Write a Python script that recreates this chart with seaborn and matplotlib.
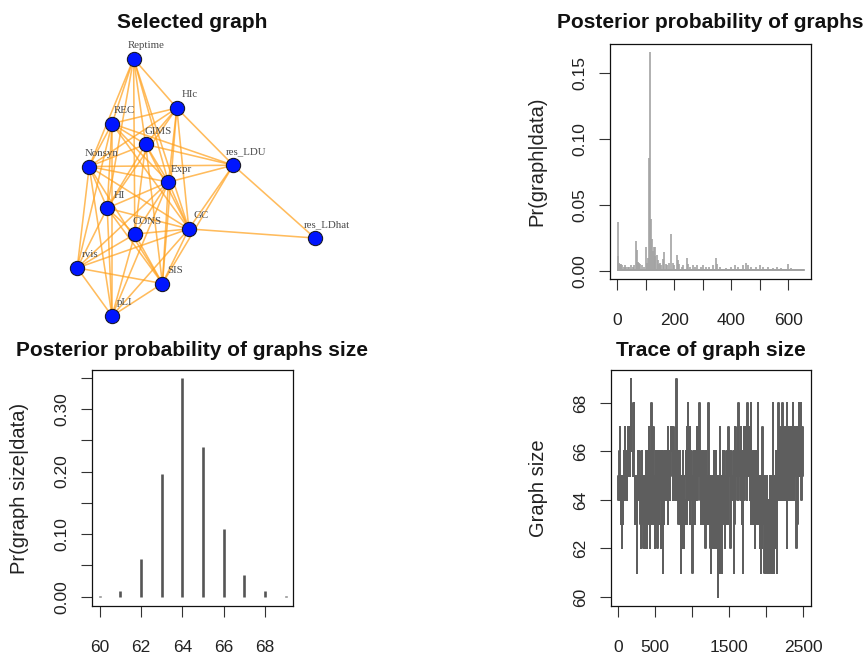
import numpy as np
import pandas as pd
import matplotlib
matplotlib.use("Agg")
import matplotlib.pyplot as plt
import seaborn as sns

# ------------------------------------------------------------------ data
# selected graph (layout coordinates)
node_names = ["Reptime", "HIc", "REC", "GIMS", "Nonsyn", "res_LDU", "Expr",
              "HI", "CONS", "GC", "res_LDhat", "rvis", "SIS", "pLI"]
node_x = [-0.52, -0.16, -0.70, -0.42, -0.89, 0.31, -0.23,
          -0.74, -0.51, -0.06, 0.99, -0.99, -0.28, -0.70]
node_y = [0.98, 0.60, 0.48, 0.32, 0.15, 0.16, 0.03,
          -0.17, -0.37, -0.33, -0.40, -0.63, -0.75, -1.00]
edge_from = (["Reptime"] * 8 + ["HIc"] * 8 + ["REC"] * 8 + ["GIMS"] * 7 +
             ["Nonsyn"] * 7 + ["res_LDU"] * 4 + ["Expr"] * 6 + ["HI"] * 5 +
             ["CONS"] * 4 + ["GC"] * 4 + ["rvis"] * 2 + ["SIS"])
edge_to = ["HIc", "REC", "Nonsyn", "HI", "CONS", "GIMS", "Expr", "GC",
           "REC", "GIMS", "Nonsyn", "res_LDU", "Expr", "GC", "HI", "SIS",
           "GIMS", "Expr", "res_LDU", "Nonsyn", "HI", "rvis", "pLI", "GC",
           "Nonsyn", "res_LDU", "Expr", "HI", "CONS", "GC", "SIS",
           "res_LDU", "Expr", "HI", "rvis", "pLI", "GC", "SIS",
           "Expr", "GC", "res_LDhat", "SIS",
           "HI", "GC", "SIS", "pLI", "CONS", "rvis",
           "CONS", "GC", "rvis", "pLI", "SIS",
           "GC", "rvis", "pLI", "SIS",
           "res_LDhat", "rvis", "SIS", "pLI",
           "SIS", "pLI",
           "pLI"]

# posterior probability of graphs (visible bars; all other graphs ~ floor)
n_graphs = 654
graph_floor = 0.0015
graph_idx = [2, 4, 6, 8, 10, 14, 18, 22, 26, 30, 36, 42, 48, 54, 60, 66, 69,
             72, 76, 80, 86, 92, 100, 104, 108, 112, 116, 119, 122, 125, 128,
             131, 134, 138, 142, 146, 150, 155, 160, 165, 170, 176, 182, 188,
             194, 200, 208, 212, 218, 226, 232, 243, 248, 256, 264, 272, 280,
             292, 300, 310, 322, 335, 345, 350, 362, 380, 400, 412, 425, 440,
             450, 458, 470, 485, 500, 512, 530, 545, 560, 575, 598, 610]
graph_prob = [0.011, 0.037, 0.006, 0.005, 0.004, 0.005, 0.004, 0.003, 0.004,
              0.003, 0.003, 0.003, 0.004, 0.003, 0.004, 0.0225, 0.016, 0.007,
              0.006, 0.005, 0.004, 0.003, 0.018, 0.006, 0.010, 0.086, 0.166,
              0.039, 0.024, 0.015, 0.018, 0.011, 0.018, 0.012, 0.008, 0.005,
              0.006, 0.004, 0.009, 0.014, 0.005, 0.004, 0.006, 0.028, 0.006,
              0.004, 0.012, 0.008, 0.005, 0.003, 0.004, 0.0095, 0.005, 0.003,
              0.004, 0.003, 0.004, 0.003, 0.004, 0.003, 0.003, 0.004, 0.0095,
              0.005, 0.003, 0.002, 0.003, 0.004, 0.003, 0.004, 0.006, 0.004,
              0.003, 0.003, 0.004, 0.003, 0.003, 0.002, 0.003, 0.002, 0.005,
              0.002]

# posterior probability of graph size
size_values = [60, 61, 62, 63, 64, 65, 66, 67, 68, 69]
size_probs = [0.001, 0.0096, 0.060, 0.196, 0.349, 0.240, 0.108, 0.034,
              0.0096, 0.001]

# trace of graph size: one digit (size - 60) per 5 iterations
trace_step = 5
trace_digits = (
    "5456754345" "2453456567" "4565456757" "6567968786" "5686543545"
    "1456545636" "3524563425" "4352463524" "5637462537" "8463574352"
    "4563542645" "3564524356" "5163456546" "4565376454" "6575676457"
    "6546564956" "4563546352" "1425364524" "3456573648" "5647365463"
    "1453645635" "4567456758" "6745365436" "4536452645" "3456835452"
    "1354253426" "4352643524" "0354173524" "1546356425" "4365453576"
    "5462436545" "4516376456" "5674587565" "4675361567" "6475675648"
    "6857645738" "5463546352" "4563645385" "3524315427" "4352413524"
    "1353142135" "4132513485" "3152436415" "6478564675" "5648675467"
    "4567482675" "6475657465" "5846746576" "4267356586" "6576845765")

# ------------------------------------------------------------------ style
sns.set_style("white")
plt.rcParams["font.family"] = ["Liberation Sans", "DejaVu Sans"]

W, H = 868, 659
fig = plt.figure(figsize=(W / 100, H / 100), dpi=100)


def add_ax(l, t, r, b):
    return fig.add_axes([l / W, 1 - b / H, (r - l) / W, (b - t) / H])


def r_style(ax, ylab):
    for s in ax.spines.values():
        s.set_visible(True)
        s.set_color("#111111")
        s.set_linewidth(0.9)
    ax.tick_params(axis="both", direction="out", length=7.7, width=0.8,
                   color="#333333", labelsize=12.5, labelcolor="#222222",
                   bottom=True, left=True)
    ax.tick_params(axis="x", pad=17)
    ax.tick_params(axis="y", pad=8.5)
    ax.set_ylabel(ylab, fontsize=14.5, color="#222222")
    ax.yaxis.label.set_verticalalignment("center")
    ax.yaxis.set_label_coords(-0.363, 0.5)
    ax.set_xlabel("")
    ax.grid(False)


def title(txt, cx, cy):
    fig.text(cx / W, 1 - cy / H, txt, ha="center", va="center",
             fontsize=15, fontweight="bold", color="#111111")


# ------------------------------------------------------------------ network
ax0 = add_ax(40, 35, 350, 335)
pos = {n: (x, y) for n, x, y in zip(node_names, node_x, node_y)}
for a, b in zip(edge_from, edge_to):
    ax0.plot([pos[a][0], pos[b][0]], [pos[a][1], pos[b][1]],
             color="#FFA21F", alpha=0.72, lw=1.15, zorder=1,
             solid_capstyle="butt")
nodes = pd.DataFrame({"x": node_x, "y": node_y, "name": node_names})
sns.scatterplot(data=nodes, x="x", y="y", ax=ax0, s=105, color="#0015FF",
                edgecolor="#1a1a2a", linewidth=0.8, zorder=3, legend=False)
for n, x, y in zip(node_names, node_x, node_y):
    ax0.annotate(n, (x, y), xytext=(9.0, 9.4), textcoords="offset points",
                 ha="center", va="center", fontsize=7.8,
                 family=["Liberation Serif", "DejaVu Serif"],
                 color="#4a4a4a", zorder=4)
ax0.set_xlim(-1.3, 1.283)
ax0.set_ylim(-1.146, 1.1615)
ax0.axis("off")
title("Selected graph", 192, 22)

# ------------------------------------------------------------------ posterior of graphs
prob_map = dict(zip(graph_idx, graph_prob))
all_idx = np.arange(1, n_graphs + 1)
all_prob = np.array([prob_map.get(i, graph_floor) for i in all_idx])
ax1 = add_ax(610, 44, 811, 279)
ax1.vlines(all_idx, 0, all_prob, color="#A3A3A3", lw=1.2)
ax1.set_xlim(-25.6, 679.6)
ax1.set_ylim(-0.0063, 0.1723)
ax1.set_xticks(np.arange(0, 601, 100))
ax1.set_xticklabels(["0", "", "200", "", "400", "", "600"])
ax1.set_yticks([0, 0.05, 0.10, 0.15])
ax1.set_yticklabels(["0.00", "0.05", "0.10", "0.15"], rotation=90,
                    va="center")
r_style(ax1, "Pr(graph|data)")
title("Posterior probability of graphs", 710.5, 22)

# ------------------------------------------------------------------ posterior of graph size
ax2 = add_ax(92.3, 370, 293.3, 606)
ax2.vlines(size_values, 0, size_probs, color="#555555", lw=1.9)
ax2.set_xlim(59.64, 69.36)
ax2.set_ylim(-0.0149, 0.3624)
ax2.set_xticks([60, 62, 64, 66, 68])
ax2.set_xticklabels(["60", "62", "64", "66", "68"])
ax2.set_yticks(np.arange(0, 0.351, 0.05))
ax2.set_yticklabels(["0.00", "", "0.10", "", "0.20", "", "0.30", ""],
                    rotation=90, va="center")
r_style(ax2, "Pr(graph size|data)")
title("Posterior probability of graphs size", 192.5, 350)

# ------------------------------------------------------------------ trace
trace = pd.DataFrame({
    "iter": np.arange(len(trace_digits)) * trace_step,
    "size": [60 + int(c) for c in trace_digits]})
ax3 = add_ax(610.7, 370, 810.7, 605.7)
sns.lineplot(data=trace, x="iter", y="size", ax=ax3, estimator=None,
             sort=False, drawstyle="steps-post", color="#5E5E5E", lw=1.4)
ax3.set_xlim(-99, 2600)
ax3.set_ylim(59.64, 69.36)
ax3.set_xticks(np.arange(0, 2501, 500))
ax3.set_xticklabels(["0", "500", "", "1500", "", "2500"])
ax3.set_yticks([60, 62, 64, 66, 68])
ax3.set_yticklabels(["60", "62", "64", "66", "68"], rotation=90, va="center")
r_style(ax3, "Graph size")
title("Trace of graph size", 710.5, 350)

fig.savefig("out.png", dpi=100)
